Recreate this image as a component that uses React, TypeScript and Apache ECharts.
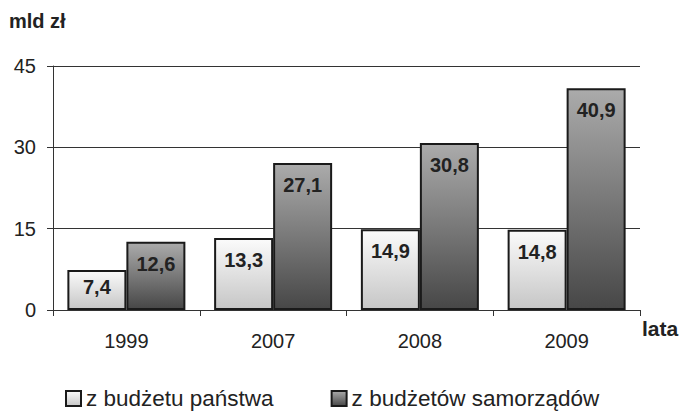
import React, { useEffect, useRef } from "react";
import * as echarts from "echarts";

const categories = ["1999", "2007", "2008", "2009"];
const stateBudget = [7.4, 13.3, 14.9, 14.8];
const localBudgets = [12.6, 27.1, 30.8, 40.9];
const seriesNames = ["z budżetu państwa", "z budżetów samorządów"];
const yTicks = { min: 0, max: 45, interval: 15 };

const FONT = "'Liberation Sans', Arial, sans-serif";

const fmt = (v: number) => v.toFixed(1).replace(".", ",");

export default function App() {
  const ref = useRef<HTMLDivElement>(null);
  useEffect(() => {
    if (!ref.current) return;
    const chart = echarts.init(ref.current, undefined, { renderer: "svg" });
    const lightGrad = new echarts.graphic.LinearGradient(0, 0, 0, 1, [
      { offset: 0, color: "#fbfbfb" },
      { offset: 1, color: "#c6c6c6" },
    ]);
    const darkGrad = new echarts.graphic.LinearGradient(0, 0, 0, 1, [
      { offset: 0, color: "#ababab" },
      { offset: 1, color: "#474747" },
    ]);
    const labelBase = {
      show: true,
      position: "insideTop" as const,
      distance: 12,
      fontFamily: FONT,
      fontSize: 20,
      fontWeight: "bold" as const,
      color: "#222",
      formatter: (p: any) => fmt(p.value),
    };
    chart.setOption({
      animation: false,
      textStyle: { fontFamily: FONT },
      grid: { left: 53, right: 42, top: 66, bottom: 101 },
      legend: {
        left: 60,
        top: 382,
        itemWidth: 15,
        itemHeight: 15,
        itemGap: 57,
        icon: "rect",
        textStyle: { fontFamily: FONT, fontSize: 22.5, color: "#222" },
        data: seriesNames,
      },
      xAxis: {
        type: "category",
        data: categories,
        axisLine: { lineStyle: { color: "#333", width: 1 } },
        axisTick: { show: true, length: 6, lineStyle: { color: "#333" } },
        axisLabel: { fontFamily: FONT, fontSize: 20, color: "#222", margin: 21 },
      },
      yAxis: {
        type: "value",
        min: yTicks.min,
        max: yTicks.max,
        interval: yTicks.interval,
        axisLine: { show: true, lineStyle: { color: "#333", width: 1 } },
        axisTick: { show: true, length: 6, lineStyle: { color: "#333" } },
        axisLabel: { fontFamily: FONT, fontSize: 20, color: "#222", margin: 17 },
        splitLine: { show: true, lineStyle: { color: "#333", width: 1 } },
      },
      series: [
        {
          name: seriesNames[0],
          type: "bar",
          data: stateBudget.map((v, i) =>
            i === 0 ? { value: v, label: { distance: 7 } } : v
          ),
          barWidth: 59,
          barGap: "0%",
          itemStyle: { color: lightGrad, borderColor: "#1a1a1a", borderWidth: 2 },
          label: labelBase,
        },
        {
          name: seriesNames[1],
          type: "bar",
          data: localBudgets,
          barWidth: 59,
          itemStyle: { color: darkGrad, borderColor: "#1a1a1a", borderWidth: 2 },
          label: labelBase,
        },
      ],
      graphic: [
        {
          type: "text",
          left: 9,
          top: 11,
          style: { text: "mld zł", fontFamily: FONT, fontSize: 20, fontWeight: "bold", fill: "#222" },
        },
        {
          type: "text",
          left: 642,
          top: 318,
          style: { text: "lata", fontFamily: FONT, fontSize: 21, fontWeight: "bold", fill: "#222" },
        },
      ],
    });
    return () => chart.dispose();
  }, []);
  return <div ref={ref} style={{ width: 682, height: 411, position: "absolute", left: 0, top: 0 }} />;
}
